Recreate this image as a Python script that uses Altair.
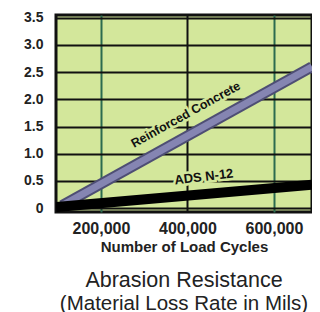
import altair as alt
import pandas as pd

# data
concrete_x = [110000, 688000]
concrete_y = [0.05, 2.6]
ads_x = [96000, 688000]
ads_y = [0.02, 0.43]

label_text = ["Reinforced Concrete", "ADS N-12"]
label_x = [396000, 438000]
label_y = [1.72, 0.575]
label_angle = [331, 353]
label_size = [12.5, 13]

x_ticks = [200000, 400000, 600000]
y_ticks = [0, 0.5, 1.0, 1.5, 2.0, 2.5, 3.0, 3.5]

BG = "#d3e79b"
FONT = "Liberation Sans"

conc = pd.DataFrame({"x": concrete_x, "y": concrete_y})
ads = pd.DataFrame({"x": ads_x, "y": ads_y})
labels = pd.DataFrame({"t": label_text, "x": label_x, "y": label_y, "a": label_angle, "s": label_size})

xscale = alt.Scale(domain=[96000, 688000], nice=False, zero=False)
yscale = alt.Scale(domain=[-0.07, 3.55], nice=False, zero=False)

xaxis = alt.Axis(
    values=x_ticks, format=",d", title="Number of Load Cycles",
    labelFont=FONT, labelFontSize=16, labelFontWeight="bold", labelColor="#222",
    titleFont=FONT, titleFontSize=15, titleFontWeight="bold", titleColor="#222",
    ticks=False, tickSize=0, domain=False, labelPadding=8, titlePadding=3,
    labelOverlap=False,
    grid=True, gridWidth=2,
    gridColor={"condition": {"test": "datum.value === 400000", "value": "#111"}, "value": "#2b6b4f"},
)
yaxis = alt.Axis(
    values=y_ticks, title=None,
    labelExpr="datum.value === 0 ? '0' : format(datum.value, '.1f')",
    labelFont=FONT, labelFontSize=14, labelFontWeight="bold", labelColor="#222",
    ticks=False, tickSize=0, domain=False, labelPadding=13,
    labelOverlap=False, labelBound=False,
    minExtent=48, maxExtent=48,
    grid=True, gridWidth=2, gridColor="#111",
)

X = alt.X("x:Q", scale=xscale, axis=xaxis)
Y = alt.Y("y:Q", scale=yscale, axis=yaxis)

c_outer = alt.Chart(conc).mark_line(color="#4e4e74", strokeWidth=11, clip=True, strokeCap="butt").encode(x=X, y=Y)
c_inner = alt.Chart(conc).mark_line(color="#8585b2", strokeWidth=7, clip=True, strokeCap="butt").encode(x=X, y=Y)
a_line = alt.Chart(ads).mark_line(color="#000", strokeWidth=10, clip=True, strokeCap="butt").encode(x=X, y=Y)
halo = alt.Chart(labels).mark_text(
    font=FONT, fontWeight="bold", fill=BG, stroke=BG, strokeWidth=5
).encode(x=X, y=Y, text="t:N", angle=alt.Angle("a:Q", scale=None), size=alt.Size("s:Q", scale=None))
txt = alt.Chart(labels).mark_text(
    font=FONT, fontWeight="bold", color="#111"
).encode(x=X, y=Y, text="t:N", angle=alt.Angle("a:Q", scale=None), size=alt.Size("s:Q", scale=None))

chart = alt.layer(c_outer, c_inner, a_line, halo, txt).properties(
    width=256, height=197,
    padding={"left": 0, "right": 0, "top": 2, "bottom": 0},
    title=alt.TitleParams(
        text="Abrasion Resistance", subtitle="(Material Loss Rate in Mils)",
        orient="bottom", anchor="middle", font=FONT, fontSize=21.5, fontWeight="normal",
        color="#222", subtitleFont=FONT, subtitleFontSize=20.5, subtitleColor="#222",
        offset=16, subtitlePadding=2,
    ),
).configure_view(fill=BG, stroke="#111", strokeWidth=3)

chart.save("out.html", embed_options={"renderer": "svg", "actions": False})
